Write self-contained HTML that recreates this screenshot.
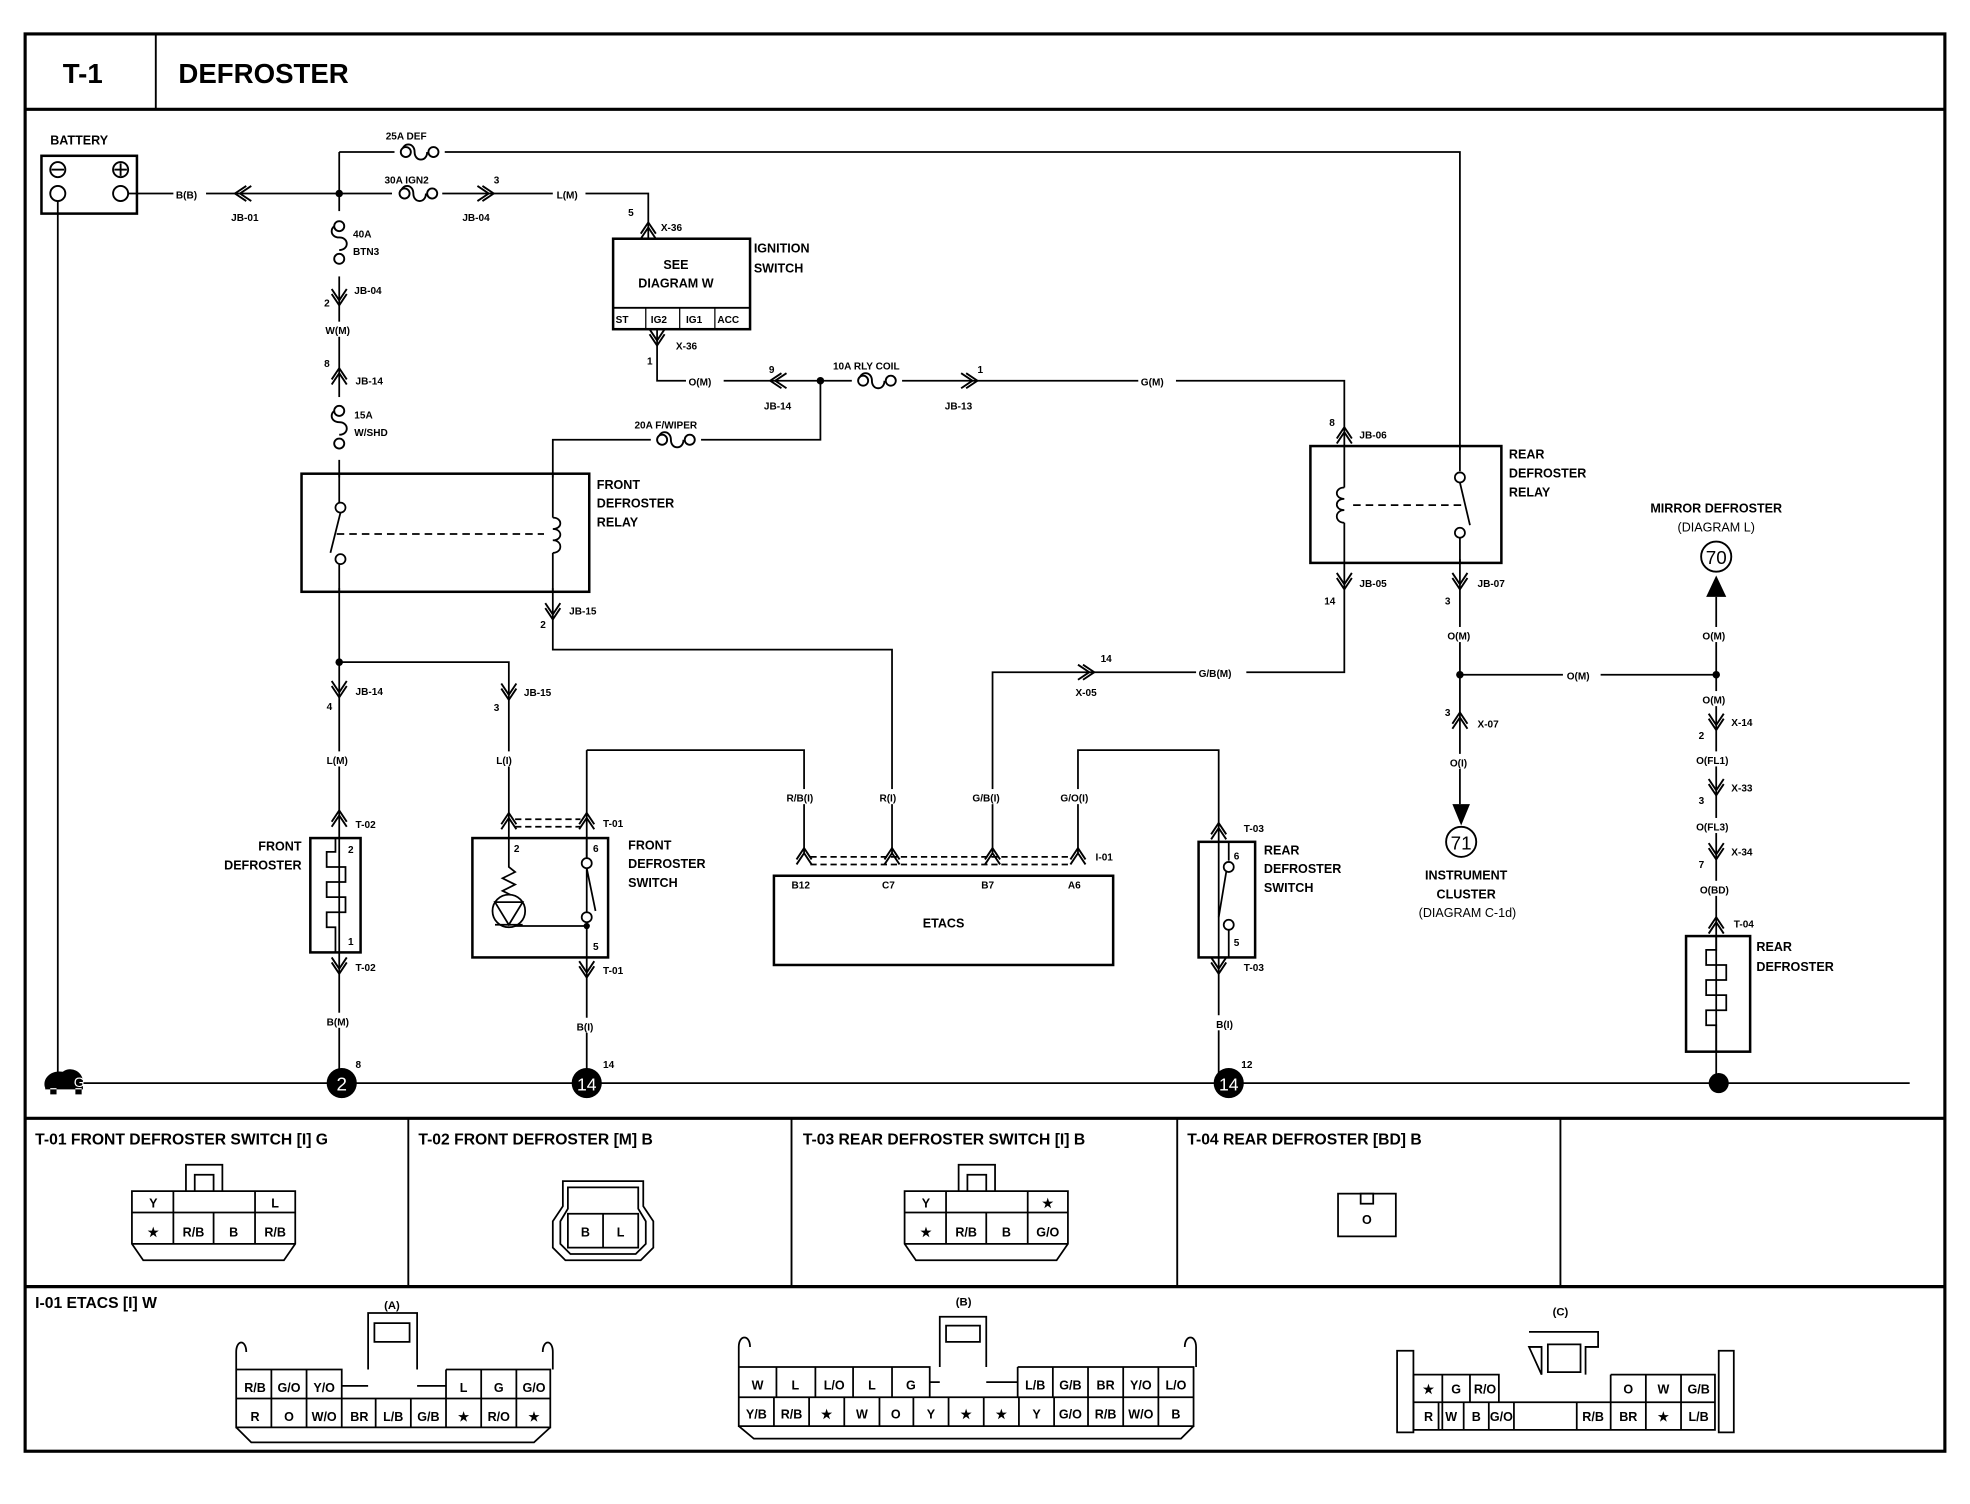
<!DOCTYPE html>
<html><head><meta charset="utf-8"><style>
html,body{margin:0;padding:0;background:#fff}
svg{display:block}
text{font-family:"Liberation Sans",Arial,sans-serif;fill:#000}
.s{font-size:10px;font-weight:bold}
.m{font-size:12px;font-weight:bold}
.t{font-size:8px;font-weight:bold}
.h{font-size:12.5px;font-weight:bold}
</style></head><body>
<svg width="1970" height="1504" viewBox="0 0 1568 1197" preserveAspectRatio="none" xmlns="http://www.w3.org/2000/svg">
<defs>
<g id="cu"><path d="M-6,6 L0,-3 L6,6 M-6,10 L0,1 L6,10" fill="none" stroke="#000" stroke-width="1.5"/></g>
<g id="cd"><path d="M-6,-6 L0,3 L6,-6 M-6,-10 L0,-1 L6,-10" fill="none" stroke="#000" stroke-width="1.5"/></g>
<g id="cl"><path d="M6,-6 L-3,0 L6,6 M10,-6 L1,0 L10,6" fill="none" stroke="#000" stroke-width="1.5"/></g>
<g id="cr"><path d="M-6,-6 L3,0 L-6,6 M-10,-6 L-1,0 L-10,6" fill="none" stroke="#000" stroke-width="1.5"/></g>
<g id="fh"><path d="M-14,0 C-14,-8 -4,-8 -4,0 C-4,8 6,8 6,0" fill="none" stroke="#000" stroke-width="1.5"/><circle cx="-11" cy="0" r="4" fill="#fff" stroke="#000" stroke-width="1.5"/><circle cx="11" cy="0" r="4" fill="#fff" stroke="#000" stroke-width="1.5"/></g>
<g id="fv"><path d="M0,-14 C-8,-14 -8,-4 0,-4 C8,-4 8,6 0,6" fill="none" stroke="#000" stroke-width="1.5"/><circle cx="0" cy="-13" r="4" fill="#fff" stroke="#000" stroke-width="1.5"/><circle cx="0" cy="13" r="4" fill="#fff" stroke="#000" stroke-width="1.5"/></g>
</defs>

<g fill="none" stroke="#000">
<rect x="20" y="27" width="1528" height="1128" stroke-width="2.5"/>
<line x1="20" y1="87" x2="1548" y2="87" stroke-width="2.5"/>
<line x1="124" y1="27" x2="124" y2="87" stroke-width="1.5"/>
<line x1="20" y1="890" x2="1548" y2="890" stroke-width="2.5"/>
<line x1="20" y1="1024" x2="1548" y2="1024" stroke-width="2.5"/>
<line x1="325" y1="890" x2="325" y2="1024" stroke-width="1.5"/>
<line x1="630" y1="890" x2="630" y2="1024" stroke-width="1.5"/>
<line x1="937" y1="890" x2="937" y2="1024" stroke-width="1.5"/>
<line x1="1242" y1="890" x2="1242" y2="1024" stroke-width="1.5"/>
</g>
<text x="50" y="66" style="font-size:22px;font-weight:bold">T-1</text>
<text x="142" y="66" style="font-size:22px;font-weight:bold">DEFROSTER</text>

<!-- wires -->
<g fill="none" stroke="#000" stroke-width="1.4">
<path d="M46,148 V862 H1520"/>
<path d="M101,154 H270 M270,121 V527 M270,121 H1162 V640"/>
<path d="M270,154 H516 V190"/>
<path d="M523,262 V295 M523,295 V303 H1070 V355"/>
<path d="M653,303 V350 H440 V517 H710 V680"/>
<path d="M270,527 H405 V667"/>
<path d="M270,527 V862"/>
<path d="M467,597 H640 V680 M467,597 V862"/>
<path d="M790,680 V535 H1070 V448"/>
<path d="M858,680 V597 H970 V862"/>
<path d="M1162,537 H1366 M1366,475 V862"/>
</g>
<rect x="244" y="380" width="222" height="88" fill="#fff"/>
<rect x="1046" y="358" width="146" height="87" fill="#fff"/>
<rect x="490" y="192" width="105" height="68" fill="#fff"/>
<g fill="none" stroke="#000">
<rect x="33" y="124" width="76" height="46" stroke-width="2"/>
<rect x="240" y="377" width="229" height="94" stroke-width="2"/>
<rect x="1043" y="355" width="152" height="93" stroke-width="2"/>
<rect x="488" y="190" width="109" height="72" stroke-width="2"/>
<line x1="488" y1="245" x2="597" y2="245" stroke-width="1.5"/>
<line x1="514" y1="245" x2="514" y2="262"/><line x1="541" y1="245" x2="541" y2="262"/><line x1="569" y1="245" x2="569" y2="262"/>
<rect x="616" y="697" width="270" height="71" stroke-width="2"/>
<rect x="376" y="667" width="108" height="95" stroke-width="2"/>
<rect x="247" y="667" width="40" height="91" stroke-width="2"/>
<rect x="954" y="670" width="45" height="92" stroke-width="2"/>
<rect x="1342" y="745" width="51" height="92" stroke-width="2"/>
</g>
<g fill="none" stroke="#000" stroke-width="1.5">
<circle cx="46" cy="135" r="6"/><line x1="41" y1="135" x2="51" y2="135"/>
<circle cx="46" cy="154" r="6" fill="#fff"/>
<circle cx="96" cy="135" r="6"/><line x1="91" y1="135" x2="101" y2="135"/><line x1="96" y1="130" x2="96" y2="140"/>
<circle cx="96" cy="154" r="6" fill="#fff"/>
</g>
<g fill="none" stroke="#000" stroke-width="1.4">
<line x1="270" y1="377" x2="270" y2="400"/><line x1="270" y1="448" x2="270" y2="471"/>
<circle cx="271" cy="404" r="4" fill="#fff"/><circle cx="271" cy="445" r="4" fill="#fff"/>
<line x1="271" y1="408" x2="263" y2="440"/>
<line x1="268" y1="425" x2="433" y2="425" stroke-dasharray="6,4"/>
<path d="M440,377 V412 M440,440 V471 M440,412 c8,0 8,9 0,9 c8,0 8,9 0,9 c8,0 8,10 0,10" />
<line x1="1162" y1="355" x2="1162" y2="375"/><line x1="1162" y1="428" x2="1162" y2="448"/>
<circle cx="1162" cy="380" r="4" fill="#fff"/><circle cx="1162" cy="424" r="4" fill="#fff"/>
<line x1="1162" y1="384" x2="1170" y2="418"/>
<line x1="1077" y1="402" x2="1166" y2="402" stroke-dasharray="6,4"/>
<path d="M1070,355 V388 M1070,416 V448 M1070,388 c-8,0 -8,9 0,9 c-8,0 -8,9 0,9 c-8,0 -8,10 0,10"/>
<path d="M267,667 V678 H260 V690 H275 V702 H260 V714 H275 V726 H260 V738 H267 V758"/>
<path d="M1366,745 V756 H1358 V768 H1374 V780 H1358 V792 H1374 V804 H1358 V816 H1366 V837"/>
<path d="M405,667 V690 l5,4 -10,5 10,5 -10,5 10,5 -5,3 V737 H467"/>
<circle cx="405" cy="725" r="13" fill="#fff"/>
<path d="M394,718 H416 L405,736 Z M394,736 H416"/>
<line x1="467" y1="667" x2="467" y2="683"/><circle cx="467" cy="687" r="4" fill="#fff"/><circle cx="467" cy="730" r="4" fill="#fff"/>
<line x1="467" y1="691" x2="474" y2="725"/>
<line x1="978" y1="670" x2="978" y2="685"/><circle cx="978" cy="690" r="4" fill="#fff"/><circle cx="978" cy="736" r="4" fill="#fff"/>
<line x1="976" y1="694" x2="970" y2="730"/><line x1="978" y1="740" x2="978" y2="762"/>
<path d="M410,652 H462 M410,658 H462" stroke-dasharray="5,3"/>
<path d="M645,682 H853 M645,688 H853" stroke-dasharray="5,3"/>
</g>
<circle cx="467" cy="737" r="2.5"/>
<g fill="#000">
<circle cx="270" cy="154" r="3"/><circle cx="653" cy="303" r="3"/><circle cx="270" cy="527" r="3"/>
<circle cx="1162" cy="537" r="3"/><circle cx="1366" cy="537" r="3"/>
<circle cx="1368" cy="862" r="8"/>
<path d="M1156,640 L1170,640 L1163,657 Z"/>
<path d="M1358,475 L1374,475 L1366,458 Z"/>
</g>
<circle cx="1163" cy="670" r="12" fill="#fff" stroke="#000" stroke-width="1.5"/>
<text x="1163" y="676" text-anchor="middle" style="font-size:15px">71</text>
<circle cx="1366" cy="443" r="12" fill="#fff" stroke="#000" stroke-width="1.5"/>
<text x="1366" y="449" text-anchor="middle" style="font-size:15px">70</text>
<g fill="#000"><circle cx="272" cy="862" r="12"/><circle cx="467" cy="862" r="12"/><circle cx="978" cy="862" r="12"/>
<path d="M36,866 a12,10 0 0 1 14,-13 a10,10 0 0 1 16,8 v6 h-30 z M40,866 v5 h5 v-5 M60,866 v5 h5 v-5"/></g>
<text x="272" y="868" text-anchor="middle" style="font-size:15px;fill:#fff">2</text>
<text x="467" y="868" text-anchor="middle" style="font-size:14px;fill:#fff">14</text>
<text x="978" y="868" text-anchor="middle" style="font-size:14px;fill:#fff">14</text>
<text x="63" y="865" text-anchor="middle" style="font-size:11px;fill:#fff">G</text>

<rect x="314" y="114" width="40" height="14" fill="#fff"/><use href="#fh" x="334" y="121"/>
<rect x="312" y="147" width="40" height="14" fill="#fff"/><use href="#fh" x="333" y="154"/>
<rect x="263" y="168" width="14" height="52" fill="#fff"/><use href="#fv" x="270" y="193"/>
<rect x="263" y="316" width="14" height="50" fill="#fff"/><use href="#fv" x="270" y="340"/>
<rect x="518" y="343" width="40" height="14" fill="#fff"/><use href="#fh" x="538" y="350"/>
<rect x="678" y="296" width="40" height="14" fill="#fff"/><use href="#fh" x="698" y="303"/>
<use href="#cl" x="190" y="154"/><use href="#cr" x="390" y="154"/>
<use href="#cu" x="516" y="180"/><use href="#cd" x="523" y="272"/>
<use href="#cd" x="270" y="240"/><use href="#cu" x="270" y="296"/>
<use href="#cl" x="616" y="303"/><use href="#cr" x="775" y="303"/>
<use href="#cd" x="440" y="490"/>
<use href="#cu" x="1070" y="343"/><use href="#cd" x="1070" y="466"/><use href="#cd" x="1162" y="466"/>
<use href="#cd" x="270" y="552"/><use href="#cd" x="405" y="554"/>
<use href="#cu" x="270" y="648"/><use href="#cd" x="270" y="772"/>
<use href="#cu" x="405" y="650"/><use href="#cu" x="467" y="650"/><use href="#cd" x="467" y="775"/>
<use href="#cu" x="640" y="678"/><use href="#cu" x="710" y="678"/><use href="#cu" x="790" y="678"/><use href="#cu" x="858" y="678"/>
<use href="#cr" x="868" y="535"/>
<use href="#cu" x="1162" y="570"/>
<use href="#cu" x="970" y="658"/><use href="#cd" x="970" y="772"/>
<use href="#cd" x="1366" y="578"/><use href="#cd" x="1366" y="630"/><use href="#cd" x="1366" y="681"/><use href="#cu" x="1366" y="733"/>

<g fill="#fff">
<rect x="138" y="148" width="26" height="12"/><rect x="440" y="148" width="26" height="12"/>
<rect x="258" y="256" width="26" height="12"/><rect x="546" y="297" width="30" height="12"/>
<rect x="906" y="297" width="30" height="12"/><rect x="258" y="598" width="26" height="12"/>
<rect x="392" y="598" width="26" height="12"/><rect x="624" y="628" width="32" height="12"/>
<rect x="698" y="628" width="24" height="12"/><rect x="772" y="628" width="34" height="12"/>
<rect x="842" y="628" width="34" height="12"/><rect x="952" y="529" width="40" height="12"/>
<rect x="1150" y="499" width="26" height="12"/><rect x="1244" y="531" width="30" height="12"/>
<rect x="1352" y="499" width="28" height="12"/><rect x="1352" y="550" width="28" height="12"/>
<rect x="1150" y="600" width="26" height="12"/><rect x="258" y="806" width="26" height="12"/>
<rect x="456" y="810" width="24" height="12"/><rect x="966" y="808" width="24" height="12"/>
<rect x="1348" y="598" width="38" height="12"/><rect x="1348" y="651" width="38" height="12"/>
<rect x="1350" y="701" width="34" height="12"/>
</g>

<g class="s">
<text x="40" y="115" class="s">BATTERY</text>
<text x="140" y="158" class="t">B(B)</text>
<text x="184" y="176" class="t">JB-01</text>
<text x="307" y="111" class="t">25A DEF</text>
<text x="306" y="146" class="t">30A IGN2</text>
<text x="393" y="146" class="t">3</text>
<text x="368" y="176" class="t">JB-04</text>
<text x="443" y="158" class="t">L(M)</text>
<text x="500" y="172" class="t">5</text>
<text x="526" y="184" class="t">X-36</text>
<text x="538" y="214" text-anchor="middle" class="s">SEE</text>
<text x="538" y="229" text-anchor="middle" class="s">DIAGRAM W</text>
<text x="600" y="201" class="s">IGNITION</text>
<text x="600" y="217" class="s">SWITCH</text>
<text x="490" y="257" class="t">ST</text><text x="518" y="257" class="t">IG2</text><text x="546" y="257" class="t">IG1</text><text x="571" y="257" class="t">ACC</text>
<text x="538" y="278" class="t">X-36</text>
<text x="515" y="290" class="t">1</text>
<text x="548" y="307" class="t">O(M)</text>
<text x="612" y="297" class="t">9</text>
<text x="608" y="326" class="t">JB-14</text>
<text x="663" y="294" class="t">10A RLY COIL</text>
<text x="778" y="297" class="t">1</text>
<text x="752" y="326" class="t">JB-13</text>
<text x="908" y="307" class="t">G(M)</text>
<text x="281" y="189" class="t">40A</text>
<text x="281" y="203" class="t">BTN3</text>
<text x="282" y="234" class="t">JB-04</text>
<text x="258" y="244" class="t">2</text>
<text x="259" y="266" class="t">W(M)</text>
<text x="258" y="292" class="t">8</text>
<text x="283" y="306" class="t">JB-14</text>
<text x="282" y="333" class="t">15A</text>
<text x="282" y="347" class="t">W/SHD</text>
<text x="505" y="341" class="t">20A F/WIPER</text>
<text x="475" y="389" class="s">FRONT</text>
<text x="475" y="404" class="s">DEFROSTER</text>
<text x="475" y="419" class="s">RELAY</text>
<text x="453" y="489" class="t">JB-15</text>
<text x="430" y="500" class="t">2</text>
<text x="283" y="553" class="t">JB-14</text>
<text x="260" y="565" class="t">4</text>
<text x="417" y="554" class="t">JB-15</text>
<text x="393" y="566" class="t">3</text>
<text x="260" y="608" class="t">L(M)</text>
<text x="395" y="608" class="t">L(I)</text>
<text x="283" y="659" class="t">T-02</text>
<text x="240" y="677" text-anchor="end" class="s">FRONT</text>
<text x="240" y="692" text-anchor="end" class="s">DEFROSTER</text>
<text x="277" y="679" class="t">2</text><text x="277" y="752" class="t">1</text>
<text x="283" y="773" class="t">T-02</text>
<text x="260" y="816" class="t">B(M)</text>
<text x="283" y="850" class="t">8</text>
<text x="480" y="658" class="t">T-01</text>
<text x="500" y="676" class="s">FRONT</text>
<text x="500" y="691" class="s">DEFROSTER</text>
<text x="500" y="706" class="s">SWITCH</text>
<text x="409" y="678" class="t">2</text><text x="472" y="678" class="t">6</text><text x="472" y="756" class="t">5</text>
<text x="480" y="775" class="t">T-01</text>
<text x="459" y="820" class="t">B(I)</text>
<text x="480" y="850" class="t">14</text>
<text x="626" y="638" class="t">R/B(I)</text>
<text x="700" y="638" class="t">R(I)</text>
<text x="774" y="638" class="t">G/B(I)</text>
<text x="844" y="638" class="t">G/O(I)</text>
<text x="872" y="685" class="t">I-01</text>
<text x="630" y="707" class="t">B12</text><text x="702" y="707" class="t">C7</text><text x="781" y="707" class="t">B7</text><text x="850" y="707" class="t">A6</text>
<text x="751" y="738" text-anchor="middle" class="s">ETACS</text>
<text x="876" y="527" class="t">14</text>
<text x="856" y="554" class="t">X-05</text>
<text x="954" y="539" class="t">G/B(M)</text>
<text x="1058" y="339" class="t">8</text>
<text x="1082" y="349" class="t">JB-06</text>
<text x="1201" y="365" class="s">REAR</text>
<text x="1201" y="380" class="s">DEFROSTER</text>
<text x="1201" y="395" class="s">RELAY</text>
<text x="1082" y="467" class="t">JB-05</text>
<text x="1054" y="481" class="t">14</text>
<text x="1176" y="467" class="t">JB-07</text>
<text x="1150" y="481" class="t">3</text>
<text x="1152" y="509" class="t">O(M)</text>
<text x="1247" y="541" class="t">O(M)</text>
<text x="1150" y="570" class="t">3</text>
<text x="1176" y="579" class="t">X-07</text>
<text x="1154" y="610" class="t">O(I)</text>
<text x="1167" y="700" text-anchor="middle" class="s">INSTRUMENT</text>
<text x="1167" y="715" text-anchor="middle" class="s">CLUSTER</text>
<text x="1168" y="730" text-anchor="middle" class="s" style="font-weight:normal">(DIAGRAM C-1d)</text>
<text x="1366" y="408" text-anchor="middle" class="s">MIRROR DEFROSTER</text>
<text x="1366" y="423" text-anchor="middle" class="s" style="font-weight:normal">(DIAGRAM L)</text>
<text x="1355" y="509" class="t">O(M)</text>
<text x="1355" y="560" class="t">O(M)</text>
<text x="1378" y="578" class="t">X-14</text><text x="1352" y="588" class="t">2</text>
<text x="1350" y="608" class="t">O(FL1)</text>
<text x="1378" y="630" class="t">X-33</text><text x="1352" y="640" class="t">3</text>
<text x="1350" y="661" class="t">O(FL3)</text>
<text x="1378" y="681" class="t">X-34</text><text x="1352" y="691" class="t">7</text>
<text x="1353" y="711" class="t">O(BD)</text>
<text x="1380" y="738" class="t">T-04</text>
<text x="1398" y="757" class="s">REAR</text>
<text x="1398" y="773" class="s">DEFROSTER</text>
<text x="990" y="662" class="t">T-03</text>
<text x="1006" y="680" class="s">REAR</text>
<text x="1006" y="695" class="s">DEFROSTER</text>
<text x="1006" y="710" class="s">SWITCH</text>
<text x="982" y="684" class="t">6</text><text x="982" y="753" class="t">5</text>
<text x="990" y="773" class="t">T-03</text>
<text x="968" y="818" class="t">B(I)</text>
<text x="988" y="850" class="t">12</text>
</g>

<g class="h">
<text x="28" y="911" class="h">T-01 FRONT DEFROSTER SWITCH [I] G</text>
<text x="333" y="911" class="h">T-02 FRONT DEFROSTER [M] B</text>
<text x="639" y="911" class="h">T-03 REAR DEFROSTER SWITCH [I] B</text>
<text x="945" y="911" class="h">T-04 REAR DEFROSTER [BD] B</text>
<text x="28" y="1041" class="h">I-01 ETACS [I] W</text>
</g>

<g fill="none" stroke="#000" stroke-width="1.4">
<path d="M148,948 V927 H177 V948 M155,948 V935 H170 V948"/>
<path d="M105,948 H235 V990 L226,1003 H114 L105,990 Z"/>
<path d="M138,948 V965 M203,948 V965 M105,965 H235 M138,965 V990 M170,965 V990 M203,965 V990 M105,990 H235"/>
<path d="M763,948 V927 H792 V948 M770,948 V935 H785 V948"/>
<path d="M720,948 H850 V990 L841,1003 H729 L720,990 Z"/>
<path d="M753,948 V965 M818,948 V965 M720,965 H850 M753,965 V990 M785,965 V990 M818,965 V990 M720,990 H850"/>
<path d="M448,940 H512 V960 L520,972 V993 L510,1003 H450 L440,993 V972 L448,960 Z"/>
<path d="M452,945 H508 V962 L514,972 V990 L506,998 H454 L446,990 V972 L452,962 Z"/>
<path d="M452,966 H508 V993 H452 Z M480,966 V993"/>
<rect x="1065" y="950" width="46" height="34"/>
<rect x="1083" y="950" width="10" height="8"/>
<path d="M293,1090 V1045 H332 V1090 M298,1053 H326 V1068 H298 Z"/>
<path d="M188,1090 V1076 C188,1066 196,1066 196,1076 M432,1076 C432,1066 440,1066 440,1076 V1090"/>
<path d="M188,1090 H272 V1113 M188,1113 H438 M355,1090 H438 V1136 H188 V1090 M355,1090 V1113 M272,1103 H293 M332,1103 H355"/>
<path d="M216,1090 V1136 M244,1090 V1136 M272,1113 V1136 M299,1113 V1136 M327,1113 V1136 M355,1113 V1136 M383,1090 V1136 M411,1090 V1136"/>
<path d="M188,1136 L200,1148 H425 L438,1136"/>
<path d="M748,1088 V1048 H785 V1088 M753,1055 H780 V1068 H753 Z"/>
<path d="M588,1088 V1072 C588,1062 597,1062 597,1072 M943,1072 C943,1062 952,1062 952,1072 V1088"/>
<path d="M588,1088 H740 V1112 M588,1112 H950 M810,1088 H950 V1135 H588 V1088 M810,1088 V1112 M740,1100 H748 M785,1100 H810"/>
<path d="M618,1088 V1112 M649,1088 V1112 M679,1088 V1112 M710,1088 V1112 M838,1088 V1112 M866,1088 V1112 M894,1088 V1112 M922,1088 V1112"/>
<path d="M616,1112 V1135 M644,1112 V1135 M672,1112 V1135 M700,1112 V1135 M727,1112 V1135 M755,1112 V1135 M783,1112 V1135 M811,1112 V1135 M839,1112 V1135 M866,1112 V1135 M894,1112 V1135 M922,1112 V1135"/>
<path d="M588,1135 L600,1145 H940 L950,1135"/>
<path d="M1217,1060 H1272 V1072 H1262 V1094 M1227,1094 V1072 H1217 Z M1232,1070 H1258 V1092 H1232 Z"/>
<path d="M1112,1075 H1125 V1140 H1112 Z M1368,1075 H1380 V1140 H1368 Z"/>
<path d="M1125,1094 H1193 V1116 M1282,1094 H1365 V1138 H1125 V1094 M1282,1094 V1116 M1125,1116 H1365"/>
<path d="M1148,1094 V1138 M1170,1094 V1116 M1310,1094 V1116 M1338,1094 V1116 M1145,1116 V1138 M1165,1116 V1138 M1185,1116 V1138 M1205,1116 V1138 M1255,1116 V1138 M1282,1116 V1138 M1310,1116 V1138 M1338,1116 V1138"/>
</g>
<g class="t" style="font-size:10px" text-anchor="middle">
<text x="122" y="961">Y</text><text x="219" y="961">L</text>
<text x="122" y="984">★</text><text x="154" y="984">R/B</text><text x="186" y="984">B</text><text x="219" y="984">R/B</text>
<text x="737" y="961">Y</text><text x="834" y="961">★</text>
<text x="737" y="984">★</text><text x="769" y="984">R/B</text><text x="801" y="984">B</text><text x="834" y="984">G/O</text>
<text x="466" y="984">B</text><text x="494" y="984">L</text>
<text x="1088" y="974">O</text>
<text x="312" y="1042" style="font-size:9px">(A)</text>
<text x="767" y="1039" style="font-size:9px">(B)</text>
<text x="1242" y="1047" style="font-size:9px">(C)</text>
<text x="203" y="1108">R/B</text><text x="230" y="1108">G/O</text><text x="258" y="1108">Y/O</text>
<text x="369" y="1108">L</text><text x="397" y="1108">G</text><text x="425" y="1108">G/O</text>
<text x="203" y="1131">R</text><text x="230" y="1131">O</text><text x="258" y="1131">W/O</text><text x="286" y="1131">BR</text><text x="313" y="1131">L/B</text><text x="341" y="1131">G/B</text><text x="369" y="1131">★</text><text x="397" y="1131">R/O</text><text x="425" y="1131">★</text>
<text x="603" y="1106">W</text><text x="633" y="1106">L</text><text x="664" y="1106">L/O</text><text x="694" y="1106">L</text><text x="725" y="1106">G</text>
<text x="824" y="1106">L/B</text><text x="852" y="1106">G/B</text><text x="880" y="1106">BR</text><text x="908" y="1106">Y/O</text><text x="936" y="1106">L/O</text>
<text x="602" y="1129">Y/B</text><text x="630" y="1129">R/B</text><text x="658" y="1129">★</text><text x="686" y="1129">W</text><text x="713" y="1129">O</text><text x="741" y="1129">Y</text><text x="769" y="1129">★</text><text x="797" y="1129">★</text><text x="825" y="1129">Y</text><text x="852" y="1129">G/O</text><text x="880" y="1129">R/B</text><text x="908" y="1129">W/O</text><text x="936" y="1129">B</text>
<text x="1137" y="1109">★</text><text x="1159" y="1109">G</text><text x="1182" y="1109">R/O</text>
<text x="1296" y="1109">O</text><text x="1324" y="1109">W</text><text x="1352" y="1109">G/B</text>
<text x="1137" y="1131">R</text><text x="1155" y="1131">W</text><text x="1175" y="1131">B</text><text x="1195" y="1131">G/O</text>
<text x="1268" y="1131">R/B</text><text x="1296" y="1131">BR</text><text x="1324" y="1131">★</text><text x="1352" y="1131">L/B</text>
</g>
</svg>
</body></html>
